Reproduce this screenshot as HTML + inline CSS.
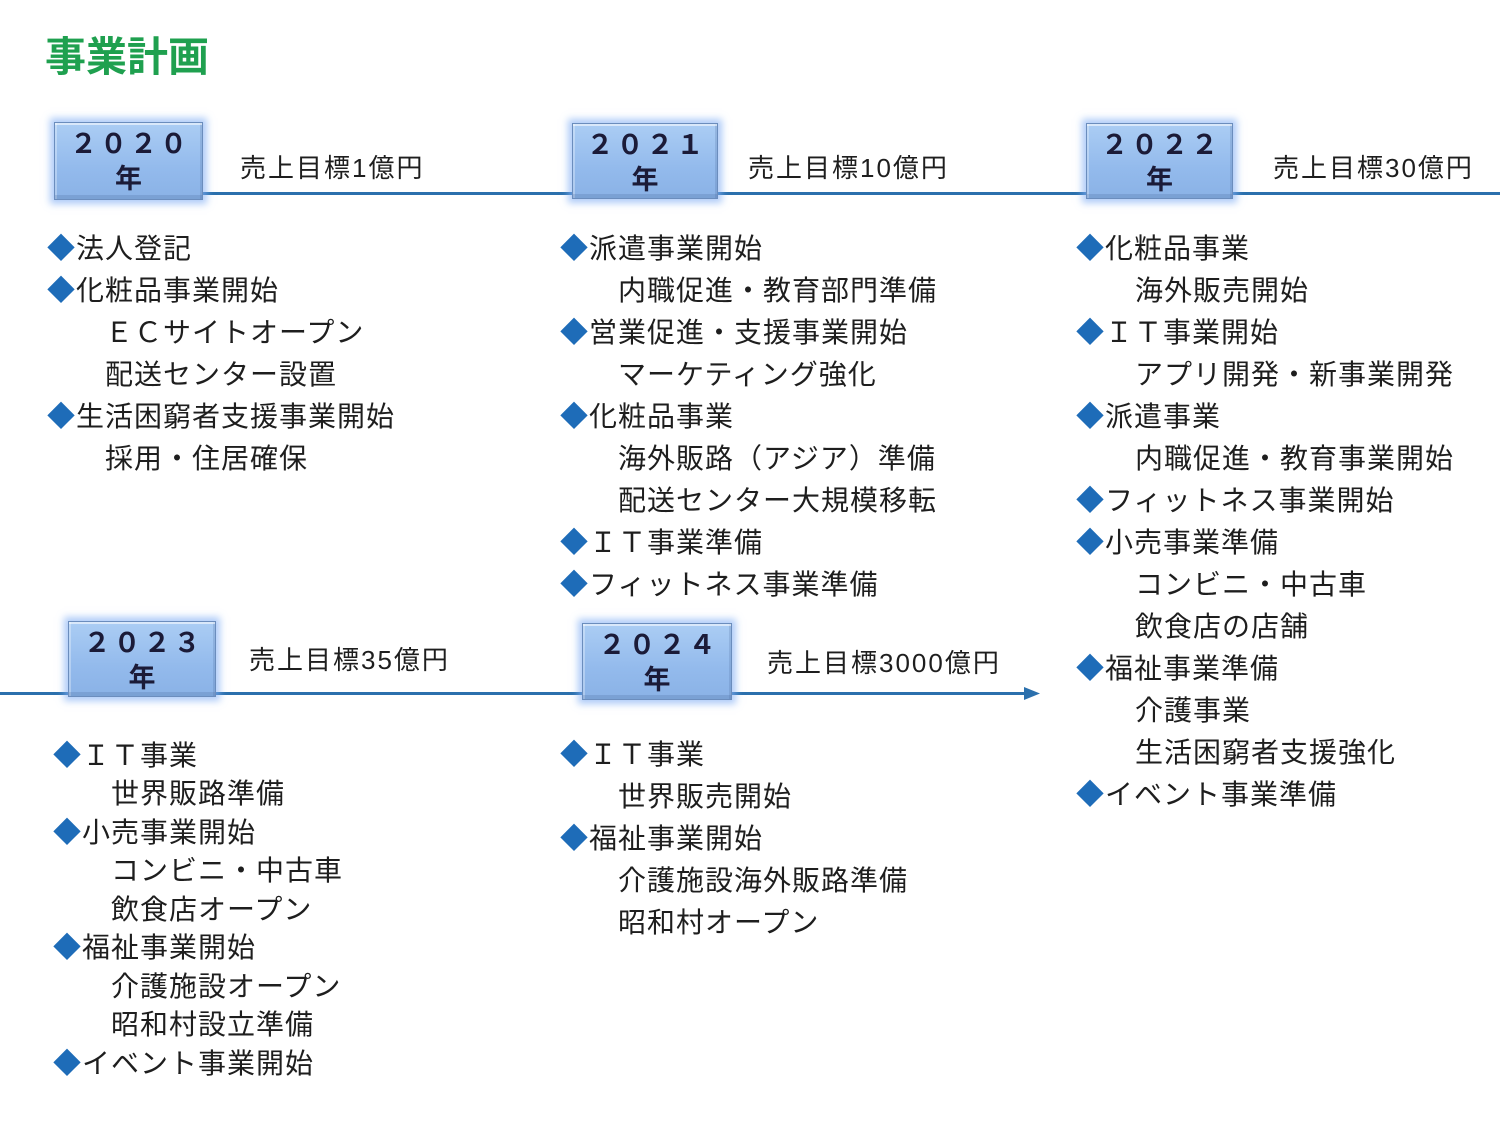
<!DOCTYPE html>
<html><head><meta charset="utf-8">
<style>
html,body{margin:0;padding:0;background:#fff;}
body{width:1500px;height:1125px;position:relative;overflow:hidden;font-family:"Liberation Sans","Noto Sans CJK JP",sans-serif;}
.t{position:absolute;font-size:28px;line-height:28px;height:28px;letter-spacing:1px;white-space:nowrap;color:#1e1e1e;margin-top:2px;}
.d{color:#1e6cb8;}
.s{position:absolute;font-size:26px;line-height:26px;letter-spacing:2px;white-space:nowrap;color:#1e1e1e;margin-top:3px;}
.box{position:absolute;box-sizing:border-box;border:1px solid #6b8dbd;
 background:linear-gradient(#abcdf4,#93baec 60%,#8ab2e6);
 box-shadow:0 0 7px 4px rgba(130,175,245,.65), inset 0 2px 0 rgba(255,255,255,.55), inset 0 -4px 0 rgba(70,100,150,.22), inset 2px 0 0 rgba(255,255,255,.3), inset -2px 0 0 rgba(70,100,150,.2);}
.box .y{position:absolute;left:0;right:0;text-align:center;font-weight:bold;color:#1b1b38;font-size:27px;line-height:27px;font-family:"Noto Sans CJK JP",sans-serif;}
.box .y1{top:5px;letter-spacing:3px;padding-left:3px;}
.box .y2{top:40px;}
.line{position:absolute;height:3px;background:#2b70ad;}
.title{position:absolute;left:45px;top:31px;font-size:41px;line-height:44px;font-weight:bold;color:#1fa04f;font-family:"Noto Sans CJK JP",sans-serif;}
</style></head><body>

<div class="title">事業計画</div>

<!-- lines -->
<div class="line" style="left:203px;top:192px;width:1297px;"></div>
<div class="line" style="left:0;top:692px;width:1030px;"></div>
<svg style="position:absolute;left:1024px;top:686px" width="18" height="16"><polygon points="0,1 16,7.5 0,14" fill="#2b70ad"/></svg>

<!-- boxes -->
<div class="box" style="left:54px;top:122px;width:149px;height:78px;"><div class="y y1">２０２０</div><div class="y y2">年</div></div>
<div class="box" style="left:572px;top:123px;width:146px;height:76px;"><div class="y y1">２０２１</div><div class="y y2">年</div></div>
<div class="box" style="left:1086px;top:123px;width:147px;height:76px;"><div class="y y1">２０２２</div><div class="y y2">年</div></div>
<div class="box" style="left:68px;top:621px;width:148px;height:76px;"><div class="y y1">２０２３</div><div class="y y2">年</div></div>
<div class="box" style="left:582px;top:623px;width:150px;height:77px;"><div class="y y1">２０２４</div><div class="y y2">年</div></div>

<!-- sales -->
<div class="s" style="left:240px;top:152px;">売上目標1億円</div>
<div class="s" style="left:748px;top:152px;">売上目標10億円</div>
<div class="s" style="left:1273px;top:152px;">売上目標30億円</div>
<div class="s" style="left:249px;top:644px;">売上目標35億円</div>
<div class="s" style="left:767px;top:647px;">売上目標3000億円</div>

<!-- column 1 (2020) -->
<div class="t" style="left:47px;top:233px;"><span class="d">◆</span>法人登記</div>
<div class="t" style="left:47px;top:275px;"><span class="d">◆</span>化粧品事業開始</div>
<div class="t" style="left:105px;top:317px;">ＥＣサイトオープン</div>
<div class="t" style="left:105px;top:359px;">配送センター設置</div>
<div class="t" style="left:47px;top:401px;"><span class="d">◆</span>生活困窮者支援事業開始</div>
<div class="t" style="left:105px;top:443px;">採用・住居確保</div>

<!-- column 2 (2021) -->
<div class="t" style="left:560px;top:233px;"><span class="d">◆</span>派遣事業開始</div>
<div class="t" style="left:618px;top:275px;">内職促進・教育部門準備</div>
<div class="t" style="left:560px;top:317px;"><span class="d">◆</span>営業促進・支援事業開始</div>
<div class="t" style="left:618px;top:359px;">マーケティング強化</div>
<div class="t" style="left:560px;top:401px;"><span class="d">◆</span>化粧品事業</div>
<div class="t" style="left:618px;top:443px;">海外販路（アジア）準備</div>
<div class="t" style="left:618px;top:485px;">配送センター大規模移転</div>
<div class="t" style="left:560px;top:527px;"><span class="d">◆</span>ＩＴ事業準備</div>
<div class="t" style="left:560px;top:569px;"><span class="d">◆</span>フィットネス事業準備</div>

<!-- column 3 (2022) -->
<div class="t" style="left:1076px;top:233px;"><span class="d">◆</span>化粧品事業</div>
<div class="t" style="left:1135px;top:275px;">海外販売開始</div>
<div class="t" style="left:1076px;top:317px;"><span class="d">◆</span>ＩＴ事業開始</div>
<div class="t" style="left:1135px;top:359px;">アプリ開発・新事業開発</div>
<div class="t" style="left:1076px;top:401px;"><span class="d">◆</span>派遣事業</div>
<div class="t" style="left:1135px;top:443px;">内職促進・教育事業開始</div>
<div class="t" style="left:1076px;top:485px;"><span class="d">◆</span>フィットネス事業開始</div>
<div class="t" style="left:1076px;top:527px;"><span class="d">◆</span>小売事業準備</div>
<div class="t" style="left:1135px;top:569px;">コンビニ・中古車</div>
<div class="t" style="left:1135px;top:611px;">飲食店の店舗</div>
<div class="t" style="left:1076px;top:653px;"><span class="d">◆</span>福祉事業準備</div>
<div class="t" style="left:1135px;top:695px;">介護事業</div>
<div class="t" style="left:1135px;top:737px;">生活困窮者支援強化</div>
<div class="t" style="left:1076px;top:779px;"><span class="d">◆</span>イベント事業準備</div>

<!-- column 4 (2023) -->
<div class="t" style="left:53px;top:740px;"><span class="d">◆</span>ＩＴ事業</div>
<div class="t" style="left:111px;top:778px;">世界販路準備</div>
<div class="t" style="left:53px;top:817px;"><span class="d">◆</span>小売事業開始</div>
<div class="t" style="left:111px;top:855px;">コンビニ・中古車</div>
<div class="t" style="left:111px;top:894px;">飲食店オープン</div>
<div class="t" style="left:53px;top:932px;"><span class="d">◆</span>福祉事業開始</div>
<div class="t" style="left:111px;top:971px;">介護施設オープン</div>
<div class="t" style="left:111px;top:1009px;">昭和村設立準備</div>
<div class="t" style="left:53px;top:1048px;"><span class="d">◆</span>イベント事業開始</div>

<!-- column 5 (2024) -->
<div class="t" style="left:560px;top:739px;"><span class="d">◆</span>ＩＴ事業</div>
<div class="t" style="left:618px;top:781px;">世界販売開始</div>
<div class="t" style="left:560px;top:823px;"><span class="d">◆</span>福祉事業開始</div>
<div class="t" style="left:618px;top:865px;">介護施設海外販路準備</div>
<div class="t" style="left:618px;top:907px;">昭和村オープン</div>

</body></html>
